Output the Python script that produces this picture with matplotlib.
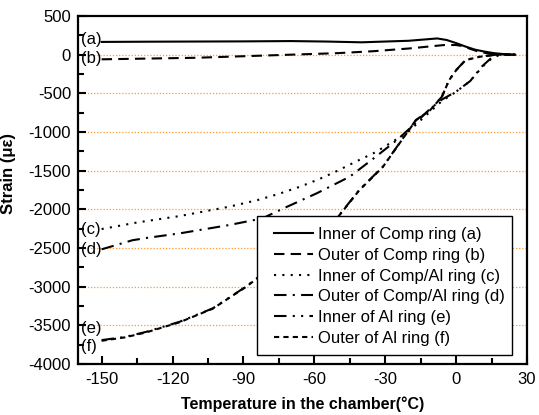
import matplotlib
matplotlib.use("Agg")
import matplotlib.pyplot as plt
from matplotlib.ticker import MultipleLocator
from matplotlib.patches import Rectangle

plt.rcParams['font.family'] = ['Liberation Sans', 'DejaVu Sans']
plt.rcParams['axes.unicode_minus'] = False

# ---- data ----
xa = [-150, -130, -110, -90, -70, -55, -40, -30, -20, -12, -8, -4, 0, 4, 8, 12, 16, 20, 25]
ya = [165, 168, 170, 172, 176, 170, 160, 170, 180, 200, 210, 190, 150, 105, 65, 40, 20, 8, 0]

xb = [-150, -130, -110, -90, -70, -50, -35, -20, -10, -5, 0, 3, 6, 10, 14, 18, 25]
yb = [-60, -50, -40, -20, 0, 20, 45, 80, 110, 125, 125, 110, 75, 35, 15, 5, 0]

xc = [-150, -135, -117, -96, -84, -75, -66, -58, -51, -41, -34, -28, -21, -14, -6, 0, 6, 11, 15, 18, 25]
yc = [-2255, -2170, -2087, -1966, -1880, -1800, -1707, -1610, -1513, -1362, -1260, -1146, -1017,
      -820, -600, -480, -340, -160, -50, -5, 0]

xd = [-150, -137, -131, -117, -96, -82, -73, -59, -45, -34, -25, -18, -11, -6, 0, 6, 11, 15, 18, 25]
yd = [-2517, -2400, -2370, -2311, -2203, -2117, -1987, -1793, -1578, -1320, -1103, -909,
      -700, -580, -478, -340, -150, -40, -5, 0]

xe = [-150, -140, -131, -117, -103, -89, -80, -70, -60, -50, -41, -31, -23, -17, -11, -6,
      -3, 0, 4, 10, 17, 25]
ye = [-3691, -3650, -3583, -3454, -3281, -3001, -2790, -2560, -2330, -2096, -1750, -1449,
      -1103, -845, -716, -543, -330, -200, -69, -26, 0, 0]

xf = [-150, -140, -131, -117, -103, -89, -80, -70, -60, -50, -41, -31, -23, -17, -11, -6,
      -3, 0, 4, 10, 17, 25]
yf = [-3700, -3655, -3590, -3460, -3285, -3005, -2795, -2565, -2335, -2100, -1755, -1452,
      -1106, -848, -718, -545, -332, -202, -70, -27, 0, 0]

labels = ["Inner of Comp ring (a)", "Outer of Comp ring (b)", "Inner of Comp/Al ring (c)",
          "Outer of Comp/Al ring (d)", "Inner of Al ring (e)", "Outer of Al ring (f)"]
tags = ["(a)", "(b)", "(c)", "(d)", "(e)", "(f)"]
tag_y = [190, -43, -2255, -2515, -3536, -3777]

fig = plt.figure(figsize=(5.39, 4.15), dpi=100)
ax = fig.add_axes([0.1447, 0.1229, 0.8330, 0.8385])

lw = 1.5
series = [(xa, ya, '-'), (xb, yb, (0, (5, 3))), (xc, yc, (0, (1, 3))),
          (xd, yd, (0, (6, 3, 1, 3))), (xe, ye, (0, (6, 3, 1, 3, 1, 3))),
          (xf, yf, (0, (2.5, 2)))]
for (x, y, ls), lab in zip(series, labels):
    ax.plot(x, y, color='black', lw=lw, linestyle=ls, label=lab)

for t, y in zip(tags, tag_y):
    ax.text(-158.8, y, t, ha='left', va='center', fontsize=12)

# orange grid lines
for g in range(0, -4000, -500):
    ax.axhline(g, color='#FF9A2E', lw=0.9, linestyle=(0, (1, 1.5)), zorder=0)

ax.set_xlim(-160, 30)
ax.set_ylim(-4000, 500)
ax.xaxis.set_major_locator(MultipleLocator(30))
ax.xaxis.set_minor_locator(MultipleLocator(15))
ax.yaxis.set_major_locator(MultipleLocator(500))
ax.yaxis.set_minor_locator(MultipleLocator(250))
ax.tick_params(which='both', direction='in', top=False, right=False, width=1.5, labelsize=12)
ax.tick_params(which='major', length=6)
ax.tick_params(which='minor', length=4)
ax.tick_params(axis='y', pad=5)
ax.tick_params(axis='x', pad=6)
for s in ax.spines.values():
    s.set_linewidth(1.6)

ax.set_xlabel("Temperature in the chamber(°C)", fontsize=11.5, fontweight='bold')
ax.set_ylabel("Strain (με)", fontsize=12, fontweight='bold')
ax.xaxis.set_label_coords(0.50, -0.093)
ax.yaxis.set_label_coords(-0.138, 0.547)

# legend frame drawn separately
frame = Rectangle((0.3987, 0.0259), 0.5679, 0.3994, transform=ax.transAxes,
                  facecolor='white', edgecolor='black', lw=1.0, zorder=4)
ax.add_patch(frame)

leg = ax.legend(loc='upper left', bbox_to_anchor=(0.4365, 0.393), fontsize=12,
                frameon=False, handlelength=2.35, handletextpad=0.3, labelspacing=0.34,
                borderpad=0, borderaxespad=0)
leg.set_zorder(5)

fig.savefig("out.png", dpi=100)
